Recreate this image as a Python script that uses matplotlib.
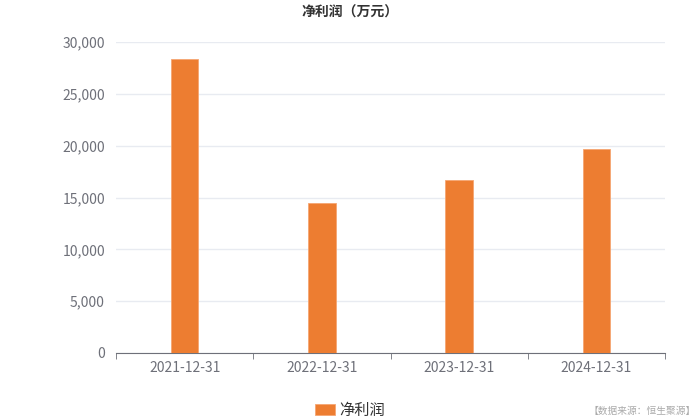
import matplotlib.pyplot as plt
import numpy as np

plt.rcParams['font.family'] = ['Noto Sans CJK SC', 'DejaVu Sans']

dates = ['2021-12-31', '2022-12-31', '2023-12-31', '2024-12-31']
profit = [28400, 14500, 16700, 19650]
yticks = [0, 5000, 10000, 15000, 20000, 25000, 30000]

fig = plt.figure(figsize=(7, 4.2), dpi=100)
ax = fig.add_axes([116/700, 1-353/420, 549/700, 311/420])

x = np.arange(len(dates))
ax.bar(x, profit, width=0.2, color='#ED7D31', edgecolor='#F5A672', linewidth=0.6,
       label='净利润', zorder=3)

ax.set_xlim(-0.5, len(dates)-0.5)
ax.set_ylim(0, 30000)
ax.set_yticks(yticks)
ax.set_yticklabels([f'{v:,}' for v in yticks])
ax.yaxis.grid(True, color='#E8EBF1', linewidth=1, zorder=0)
ax.set_xticks(x)
ax.set_xticklabels(dates)
ax.set_xticks(np.arange(len(dates)+1)-0.5, minor=True)
ax.tick_params(axis='x', which='major', length=0, pad=6, labelsize=10, labelcolor='#6E7079')
ax.tick_params(axis='x', which='minor', length=4, color='#6E7079')
ax.tick_params(axis='y', length=0, pad=8, labelsize=10, labelcolor='#6E7079')
for s in ['top', 'right', 'left']:
    ax.spines[s].set_visible(False)
ax.spines['bottom'].set_color('#6E7079')

fig.text(0.5, 1-13/420, '净利润（万元）', ha='center', va='center', fontsize=10,
         fontweight='bold', color='#333333')

leg = ax.legend(loc='center', bbox_to_anchor=(350/700, 1-410/420),
                bbox_transform=fig.transFigure, frameon=False, fontsize=11,
                handlelength=1.3, handleheight=0.7, handletextpad=0.3)
for t in leg.get_texts():
    t.set_color('#333333')

fig.text(1-4/700, 1-411/420, '【数据来源：恒生聚源】', ha='right', va='center',
         fontsize=7, color='#AAAAAA')

fig.savefig('out.png', dpi=100)
